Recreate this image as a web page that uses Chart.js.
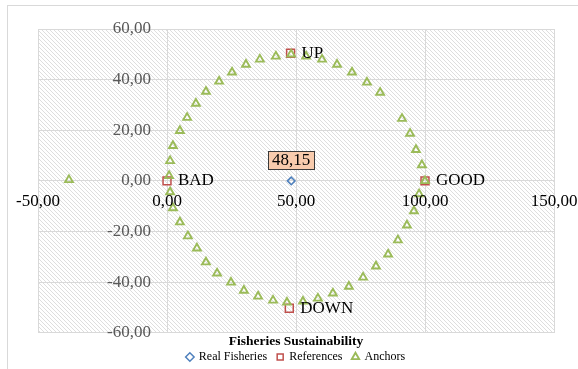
<!DOCTYPE html>
<html>
<head>
<meta charset="utf-8">
<script src="https://cdn.jsdelivr.net/npm/chart.js@4/dist/chart.umd.min.js"></script>
<style>
  html, body { margin: 0; padding: 0; background: #fff; overflow: hidden; }
  canvas { display: block; }
</style>
</head>
<body>
<canvas id="chart" width="578" height="369"></canvas>
<script>
// Ordination of the fishery against its references and anchors
const realFisheriesX = [48.15];
const realFisheriesY = [0];

const referenceNames = ['GOOD', 'BAD', 'UP', 'DOWN'];
const referenceX = [100, 0, 47.9, 47.4];
const referenceY = [0, 0, 50.4, -50.3];

const anchorX = [15.1, 11.2, 7.8, 5.0, 2.3, 1.2, 0.8, 1.2, 2.3, 5.0, 8.1, 11.6,
                 15.1, 19.4, 24.8, 29.8, 35.3, 41.1, 46.5, 52.7, 58.5, 64.3, 70.5, 76.0,
                 81.0, 85.7, 89.5, 93.0, 95.7, 97.7, 100.0, 98.8, 96.5, 94.2, 91.1, 82.6,
                 77.5, 71.7, 65.9, 60.1, 53.9, 48.1, 42.2, 36.0, 30.6, 25.2, 20.2, -38.0];
const anchorY = [35.3, 30.6, 25.0, 19.8, 13.9, 7.9, 2.0, -4.4, -10.7, -16.3, -21.8, -26.6,
                 -32.1, -36.5, -40.1, -43.3, -45.6, -47.2, -48.0, -47.6, -46.4, -44.4, -41.7, -38.1,
                 -33.7, -29.0, -23.4, -17.5, -11.9, -5.2, 0.0, 6.3, 12.3, 18.7, 24.6, 34.9,
                 38.9, 42.9, 46.0, 48.0, 49.2, 50.0, 49.2, 48.0, 46.0, 42.9, 39.3, 0.4];

const xTicks = [-50, 0, 50, 100, 150];
const yTicks = [-60, -40, -20, 0, 20, 40, 60];

const FONT = '"Liberation Serif", "Times New Roman", serif';
const GRID = '#d9d9d9';

const toPoints = (xs, ys) => xs.map((x, i) => ({ x, y: ys[i] }));
const fmt = v => v.toFixed(2).replace('.', ',');

// Diagonal hatch used as the plot-area fill
function hatchPattern(ctx) {
  const tile = document.createElement('canvas');
  tile.width = 4; tile.height = 4;
  const t = tile.getContext('2d');
  t.fillStyle = '#ffffff';
  t.fillRect(0, 0, 4, 4);
  t.strokeStyle = '#dedede';
  t.lineWidth = 1;
  t.beginPath();
  t.moveTo(-1, -1); t.lineTo(5, 5);
  t.moveTo(-1, 3); t.lineTo(1, 5);
  t.moveTo(3, -1); t.lineTo(5, 1);
  t.stroke();
  return ctx.createPattern(tile, 'repeat');
}

const backdrop = {
  id: 'backdrop',
  beforeDraw(chart) {
    const { ctx, chartArea: a } = chart;
    ctx.save();
    ctx.fillStyle = '#ffffff';
    ctx.fillRect(0, 0, chart.width, chart.height);
    // outer frame of the chart object
    ctx.strokeStyle = GRID;
    ctx.lineWidth = 1;
    ctx.strokeRect(7.5, 5.5, chart.width + 20, chart.height + 20);
    ctx.fillStyle = hatchPattern(ctx);
    ctx.fillRect(a.left, a.top, a.right - a.left, a.bottom - a.top);
    ctx.restore();
  }
};

// Axis values drawn along the axes that cross at the origin
const crossAxisLabels = {
  id: 'crossAxisLabels',
  afterDatasetsDraw(chart) {
    const { ctx, scales: { x, y } } = chart;
    const x0 = x.getPixelForValue(0);
    const y0 = y.getPixelForValue(0);
    ctx.save();
    ctx.font = '17px ' + FONT;
    ctx.textBaseline = 'middle';
    ctx.fillStyle = '#595959';
    ctx.textAlign = 'right';
    y.ticks.forEach(t => ctx.fillText(fmt(t.value), x0 - 16, y.getPixelForValue(t.value)));
    ctx.fillStyle = '#000000';
    ctx.textAlign = 'center';
    x.ticks.forEach(t => ctx.fillText(fmt(t.value), x.getPixelForValue(t.value), y0 + 21));
    ctx.restore();
  }
};

// Names beside the reference points and the value box of the fishery
const pointLabels = {
  id: 'pointLabels',
  afterDatasetsDraw(chart) {
    const { ctx } = chart;
    ctx.save();
    ctx.font = '17px ' + FONT;
    ctx.textBaseline = 'middle';
    ctx.textAlign = 'left';
    ctx.fillStyle = '#000000';
    chart.getDatasetMeta(1).data.forEach((el, i) => {
      ctx.fillText(referenceNames[i], el.x + 11, el.y);
    });
    chart.getDatasetMeta(0).data.forEach((el, i) => {
      const text = fmt(realFisheriesX[i]);
      const w = ctx.measureText(text).width + 8;
      const h = 18;
      const cy = el.y - 21;
      ctx.fillStyle = '#f8cbad';
      ctx.fillRect(Math.round(el.x - w / 2) + 0.5, Math.round(cy - h / 2) + 0.5, Math.round(w), h);
      ctx.strokeStyle = '#3a3a3a';
      ctx.lineWidth = 1;
      ctx.strokeRect(Math.round(el.x - w / 2) + 0.5, Math.round(cy - h / 2) + 0.5, Math.round(w), h);
      ctx.fillStyle = '#000000';
      ctx.textAlign = 'center';
      ctx.fillText(text, el.x, cy + 1);
    });
    ctx.restore();
  }
};

new Chart(document.getElementById('chart'), {
  type: 'scatter',
  data: {
    datasets: [
      {
        label: 'Real Fisheries',
        data: toPoints(realFisheriesX, realFisheriesY),
        pointStyle: 'rectRot',
        pointRadius: 3.8,
        borderColor: '#4f81bd',
        backgroundColor: 'rgba(255,255,255,0)',
        borderWidth: 1.5,
        order: 2
      },
      {
        label: 'References',
        data: toPoints(referenceX, referenceY),
        pointStyle: 'rect',
        pointRadius: 5.6,
        borderColor: '#c0504d',
        backgroundColor: 'rgba(255,255,255,0)',
        borderWidth: 1.5,
        order: 1
      },
      {
        label: 'Anchors',
        data: toPoints(anchorX, anchorY),
        pointStyle: 'triangle',
        pointRadius: 4.5,
        borderColor: '#9bbb59',
        backgroundColor: 'rgba(255,255,255,0)',
        borderWidth: 1.9,
        order: 0
      }
    ]
  },
  options: {
    responsive: false,
    devicePixelRatio: 1,
    animation: false,
    events: [],
    layout: { padding: { left: 38, top: 29, right: 24, bottom: -4 } },
    scales: {
      x: {
        type: 'linear',
        min: -50, max: 150,
        afterBuildTicks: s => { s.ticks = xTicks.map(v => ({ value: v })); },
        ticks: { display: false },
        grid: { color: GRID, lineWidth: 1, drawTicks: false },
        border: { color: GRID }
      },
      y: {
        type: 'linear',
        min: -60, max: 60,
        afterBuildTicks: s => { s.ticks = yTicks.map(v => ({ value: v })); },
        ticks: { display: false },
        grid: { color: GRID, lineWidth: 1, drawTicks: false },
        border: { color: GRID }
      }
    },
    plugins: {
      tooltip: { enabled: false },
      legend: {
        position: 'bottom',
        align: 'center',
        title: {
          display: true,
          text: 'Fisheries Sustainability',
          color: '#000000',
          font: { family: FONT, size: 13.5, weight: 'bold' },
          padding: { top: 2, bottom: -10 }
        },
        labels: {
          usePointStyle: true,
          boxWidth: 6,
          boxHeight: 6,
          padding: 10,
          color: '#000000',
          font: { family: FONT, size: 12 },
          sort: (a, b) => a.datasetIndex - b.datasetIndex
        }
      }
    }
  },
  plugins: [backdrop, crossAxisLabels, pointLabels]
});
</script>
</body>
</html>
